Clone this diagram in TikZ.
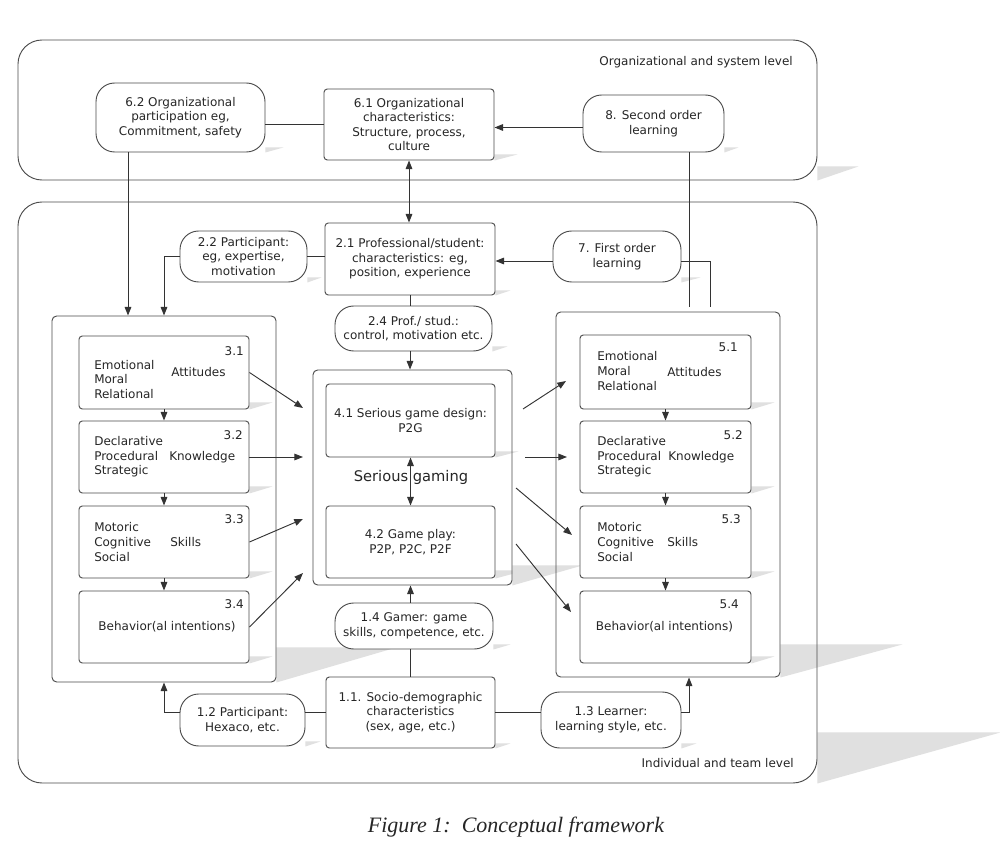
\documentclass[tikz,border=0pt]{standalone}
\usepackage{fontspec}
\setmainfont{DejaVu Sans}
\newfontfamily\capfont{Liberation Serif}
\usetikzlibrary{arrows.meta,calc}
\pgfdeclarelayer{bg}
\pgfsetlayers{bg,main}
\newcommand\nf{\fontsize{9pt}{10.9pt}\selectfont}
\newcommand\myshadow[3]{\fill[shd] ($(#1.south east)+(0,-#2)$) -- ++(#3,0) -- (#1.south east) -- cycle;}
\tikzset{
 bx/.style={draw=black!70, line width=0.7pt, fill=white, rounded corners=2.5pt, inner sep=0pt, align=center, font=\nf, text=black!85},
 pill/.style={bx, rounded corners=14pt},
 cont/.style={draw=black!70, line width=0.7pt, rounded corners=3.5pt, inner sep=0pt},
 bigcont/.style={cont, rounded corners=18pt},
 ln/.style={draw=black!80, line width=0.7pt},
 arr/.style={ln, -{Triangle[length=6.5pt,width=5pt]}},
 arr2/.style={ln, {Triangle[length=6.5pt,width=5pt]}-{Triangle[length=6.5pt,width=5pt]}},
 txt/.style={inner sep=0pt, font=\nf, align=left, text=black!85},
 shd/.style={fill=black!12},
}
\begin{document}
\begin{tikzpicture}[x=0.75pt,y=-0.75pt]
\useasboundingbox (0,0) rectangle (1000,859);

% containers
\node[bigcont, minimum width=599.25pt, minimum height=105pt] (topbox) at (417.5,110) {};
\node[bigcont, minimum width=599.25pt, minimum height=435.75pt] (botbox) at (417.5,492.5) {};
\node[txt, anchor=east] (toplbl) at (793,62) {Organizational and system level};
\node[txt, anchor=east] (botlbl) at (794,763) {Individual and team level};

% top level
\node[pill, minimum width=126.75pt, minimum height=51.75pt] (n62) at (180.5,117.5) {6.2 Organizational\\participation eg,\\Commitment, safety};
\node[bx, minimum width=127.5pt, minimum height=53.25pt] (n61) at (409,124.5) {6.1 Organizational\\characteristics:\\Structure, process,\\culture};
\node[pill, minimum width=105.75pt, minimum height=42.75pt] (n8) at (653.5,123.5) {8. Second order\\learning};

% level 2
\node[bx, minimum width=127.5pt, minimum height=54pt] (n21) at (410,259) {2.1 Professional/student:\\characteristics: eg,\\position, experience};
\node[pill, minimum width=95.25pt, minimum height=38.25pt] (n22) at (243.5,256.5) {2.2 Participant:\\eg, expertise,\\motivation};
\node[pill, minimum width=96pt, minimum height=38.25pt] (n7) at (617,256.5) {7. First order\\learning};
\node[pill, minimum width=117.75pt, minimum height=33.75pt] (n24) at (413.5,328.5) {2.4 Prof./ stud.:\\control, motivation etc.};

% columns
\node[cont, minimum width=168pt, minimum height=274.5pt] (leftbox) at (164,499) {};
\node[cont, minimum width=168pt, minimum height=273.75pt] (rightbox) at (668,494.5) {};
\node[cont, minimum width=149.25pt, minimum height=161.25pt] (sgbox) at (412.5,477.5) {};

% left inner
\node[bx, minimum width=127.5pt, minimum height=54.75pt] (n31) at (164,372.5) {};
\node[bx, minimum width=127.5pt, minimum height=54pt] (n32) at (164,457) {};
\node[bx, minimum width=127.5pt, minimum height=54pt] (n33) at (164,542) {};
\node[bx, minimum width=127.5pt, minimum height=54pt] (n34) at (164,627) {};
\node[txt, anchor=east] (n31n) at (244,351) {3.1};
\node[txt, anchor=west] (n31l) at (94,379.5) {Emotional\\Moral\\Relational};
\node[txt, anchor=west] (n31r) at (171,372) {Attitudes};
\node[txt, anchor=east] (n32n) at (243,435) {3.2};
\node[txt, anchor=west] (n32l) at (94,457) {Declarative\\Procedural\\Strategic};
\node[txt, anchor=west] (n32r) at (169,457) {Knowledge};
\node[txt, anchor=east] (n33n) at (244,519) {3.3};
\node[txt, anchor=west] (n33l) at (94,542) {Motoric\\Cognitive\\Social};
\node[txt, anchor=west] (n33r) at (170,542) {Skills};
\node[txt, anchor=east] (n34n) at (244,604) {3.4};
\node[txt] (n34t) at (167,627) {Behavior(al intentions)};

% right inner
\node[bx, minimum width=128.25pt, minimum height=55.5pt] (n51) at (665.5,372) {};
\node[bx, minimum width=128.25pt, minimum height=54pt] (n52) at (665.5,457) {};
\node[bx, minimum width=128.25pt, minimum height=54pt] (n53) at (665.5,542) {};
\node[bx, minimum width=128.25pt, minimum height=54pt] (n54) at (665.5,627) {};
\node[txt, anchor=east] (n51n) at (738,347) {5.1};
\node[txt, anchor=west] (n51l) at (597,371) {Emotional\\Moral\\Relational};
\node[txt, anchor=west] (n51r) at (667,372) {Attitudes};
\node[txt, anchor=east] (n52n) at (743,435) {5.2};
\node[txt, anchor=west] (n52l) at (597,457) {Declarative\\Procedural\\Strategic};
\node[txt, anchor=west] (n52r) at (668,457) {Knowledge};
\node[txt, anchor=east] (n53n) at (741,519) {5.3};
\node[txt, anchor=west] (n53l) at (597,542) {Motoric\\Cognitive\\Social};
\node[txt, anchor=west] (n53r) at (667,542) {Skills};
\node[txt, anchor=east] (n54n) at (739,604) {5.4};
\node[txt] (n54t) at (664.5,627) {Behavior(al intentions)};

% serious gaming
\node[bx, minimum width=126.75pt, minimum height=54.75pt] (n41) at (410.5,420.5) {4.1 Serious game design:\\P2G};
\node[bx, minimum width=126.75pt, minimum height=54pt] (n42) at (410.5,542) {4.2 Game play:\\P2P, P2C, P2F};
\node[inner sep=0pt, text=black!85, font=\fontsize{11pt}{13pt}\selectfont] (sglbl) at (411,477) {Serious gaming};

% level 1
\node[pill, minimum width=118.5pt, minimum height=34.5pt] (n14) at (414,626) {1.4 Gamer: game\\skills, competence, etc.};
\node[bx, minimum width=126.75pt, minimum height=53.25pt] (n11) at (410.5,712.5) {1.1. Socio-demographic\\characteristics\\(sex, age, etc.)};
\node[pill, minimum width=93.75pt, minimum height=39pt] (n12) at (242.5,720) {1.2 Participant:\\Hexaco, etc.};
\node[pill, minimum width=105pt, minimum height=42pt] (n13) at (611,720) {1.3 Learner:\\learning style, etc.};

% caption
\node[inner sep=0pt, text=black!85, font=\capfont\itshape\fontsize{16.5pt}{18pt}\selectfont] (cap) at (516,827) {Figure 1:\ \ Conceptual framework};

% coordinates
\coordinate (c62) at ($(n62.south)+(-52.5,0)$);
\coordinate (c8) at ($(n8.south)+(35.5,0)$);
\coordinate (c8w) at ($(n8.west)+(0,4)$);
\coordinate (c7w) at ($(n7.west)+(0,4.5)$);
\coordinate (c7e) at ($(n7.east)+(0,4.5)$);
\coordinate (c7d) at ($(rightbox.north)+(42,0)$);
\coordinate (c13) at ($(rightbox.south)+(21,0)$);
\coordinate (t1) at (303,408);
\coordinate (t2) at (303,457);
\coordinate (t3) at (303,519);
\coordinate (t4) at (303,573);
\coordinate (s1) at (523,409);
\coordinate (s2) at (525,457);
\coordinate (s3) at (516,488);
\coordinate (s4) at (516,544);
\coordinate (u1) at (566,381);
\coordinate (u2) at (567,457);
\coordinate (u3) at (572,535);
\coordinate (u4) at (571,612);

% connectors
\draw[ln] (n61.west) -- (n61.west -| n62.east);
\draw[arr] (c8w) -- (c8w -| n61.east);
\draw[arr] (c62) -- (c62 |- leftbox.north);
\draw[ln, shorten >=3.5pt] (c8) -- (c8 |- rightbox.north);
\draw[arr2] (n61.south) -- (n61.south |- n21.north);
\draw[ln] (n22.east) -- (n22.east -| n21.west);
\draw[arr] (n22.west) -| (leftbox.north);
\draw[arr] (c7w) -- (c7w -| n21.east);
\draw[ln, shorten >=3.5pt] (c7e) -| (c7d);
\draw[ln] (n21.south) -- (n21.south |- n24.north);
\draw[arr] (n21.south |- n24.south) -- (n21.south |- sgbox.north);

\draw[arr] (n31.south) -- (n32.north);
\draw[arr] (n32.south) -- (n33.north);
\draw[arr] (n33.south) -- (n34.north);
\draw[arr] (n51.south) -- (n52.north);
\draw[arr] (n52.south) -- (n53.north);
\draw[arr] (n53.south) -- (n54.north);

\draw[arr] (n31.east) -- (t1);
\draw[arr] (n32.east) -- (t2);
\draw[arr] (n33.east) -- (t3);
\draw[arr] (n34.east) -- (t4);
\draw[arr] (s1) -- (u1);
\draw[arr] (s2) -- (u2);
\draw[arr] (s3) -- (u3);
\draw[arr] (s4) -- (u4);

\draw[arr2] (n41.south) -- (n42.north);

\draw[ln] (n11.north) -- (n11.north |- n14.south);
\draw[arr] (n11.north |- n14.north) -- (n11.north |- sgbox.south);
\draw[ln] (n11.west) -- (n11.west -| n12.east);
\draw[ln] (n11.east) -- (n11.east -| n13.west);
\draw[arr] (n11.west -| n12.west) -| (leftbox.south);
\draw[arr] (n11.east -| n13.east) -| (c13);

% shadows
\begin{pgfonlayer}{bg}
\fill[white] (0,0) rectangle (1000,859);
\myshadow{topbox}{14}{41}
\myshadow{botbox}{51}{183}
\myshadow{leftbox}{35}{120}
\myshadow{rightbox}{33}{122}
\myshadow{sgbox}{20}{70}
\myshadow{n62}{5}{18}
\myshadow{n61}{6}{23}
\myshadow{n8}{5}{14}
\myshadow{n21}{5}{15}
\myshadow{n22}{5}{14}
\myshadow{n7}{5}{19}
\myshadow{n24}{5}{15}
\myshadow{n14}{5}{17}
\myshadow{n11}{5}{15}
\myshadow{n12}{5}{15}
\myshadow{n13}{5}{15}
\myshadow{n41}{6}{23}
\myshadow{n42}{8}{30}
\foreach \n in {n31,n32,n33,n34,n51,n52,n53,n54} {\myshadow{\n}{7}{23}}
\end{pgfonlayer}
\end{tikzpicture}
\end{document}
